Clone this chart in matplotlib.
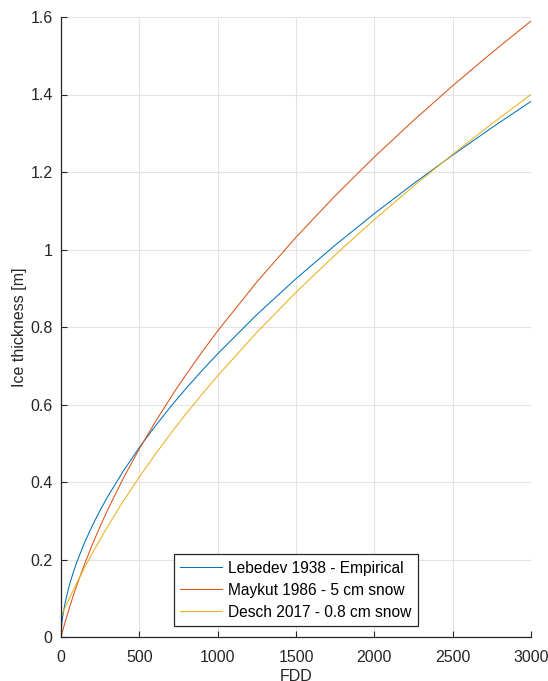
"""
Ice thickness growth vs freezing degree days for three empirical/analytic models.
"""
import matplotlib
matplotlib.use("Agg")
import matplotlib.pyplot as plt

# freezing degree days sampled along the curves
fdd = [0, 5, 10, 25, 50, 75, 100, 150, 200, 250, 300, 400, 500, 600, 700,
       750, 800, 900, 1000, 1250, 1500, 1750, 2000, 2250, 2500, 2750, 3000]

# ice thickness [m]
lebedev = [0.0, 0.0338, 0.0506, 0.0860, 0.1286, 0.1627, 0.1922, 0.2433,
           0.2874, 0.3271, 0.3636, 0.4296, 0.4890, 0.5435, 0.5943, 0.6187,
           0.6422, 0.6876, 0.7308, 0.8320, 0.9246, 1.0112, 1.0926, 1.1699,
           1.2436, 1.3144, 1.3823]
maykut = [0.0, 0.0076, 0.0151, 0.0367, 0.0707, 0.1024, 0.1323, 0.1878,
          0.2386, 0.2858, 0.3300, 0.4114, 0.4855, 0.5540, 0.6180, 0.6485,
          0.6782, 0.7354, 0.7898, 0.9162, 1.0317, 1.1386, 1.2387, 1.3330,
          1.4226, 1.5079, 1.5897]
desch = [0.0520, 0.0566, 0.0612, 0.0748, 0.0968, 0.1182, 0.1389, 0.1786,
         0.2163, 0.2523, 0.2868, 0.3521, 0.4130, 0.4704, 0.5249, 0.5511,
         0.5768, 0.6264, 0.6741, 0.7861, 0.8896, 0.9862, 1.0772, 1.1635,
         1.2457, 1.3244, 1.3999]

labels = ["Lebedev 1938 - Empirical", "Maykut 1986 - 5 cm snow",
          "Desch 2017 - 0.8 cm snow"]
colors = ["#0072BD", "#D95319", "#EDB120"]

x_ticks = [0, 500, 1000, 1500, 2000, 2500, 3000]
y_ticks = [0, 0.2, 0.4, 0.6, 0.8, 1.0, 1.2, 1.4, 1.6]
y_tick_labels = ["0", "0.2", "0.4", "0.6", "0.8", "1", "1.2", "1.4", "1.6"]

plt.rcParams["font.family"] = ["Liberation Sans", "DejaVu Sans"]
plt.rcParams["font.size"] = 11

fig = plt.figure(figsize=(5.48, 6.81), dpi=100)
ax = fig.add_axes([61 / 548, 1 - 637 / 681, 470 / 548, 620 / 681])

for series, label, color in zip([lebedev, maykut, desch], labels, colors):
    ax.plot(fdd, series, color=color, linewidth=0.75, label=label)

ax.set_xlim(0, 3000)
ax.set_ylim(0, 1.6)
ax.set_xticks(x_ticks)
ax.set_yticks(y_ticks)
ax.set_yticklabels(y_tick_labels)
ax.grid(True, color="#e3e3e3", linewidth=0.8)
ax.set_axisbelow(True)

for side in ["top", "right"]:
    ax.spines[side].set_visible(False)
for side in ["left", "bottom"]:
    ax.spines[side].set_color("#262626")
    ax.spines[side].set_linewidth(0.9)
ax.tick_params(direction="in", length=4, width=0.8, colors="#262626",
               labelsize=11.5, labelcolor="#262626")
ax.tick_params(axis="x", pad=9)
ax.tick_params(axis="y", pad=6)

ax.set_xlabel("FDD", color="#262626", labelpad=3, fontsize=11.5)
ax.set_ylabel("Ice thickness [m]", color="#262626", labelpad=2.5, fontsize=11.5)

leg = ax.legend(loc="lower center", bbox_to_anchor=(0.5, 0.018),
                fancybox=False, edgecolor="#262626", framealpha=1,
                handlelength=2.7, handletextpad=0.4, labelspacing=0.45,
                borderpad=0.4, borderaxespad=0, fontsize=11.2)
leg.get_frame().set_linewidth(0.9)

fig.savefig("out.png", dpi=100)
